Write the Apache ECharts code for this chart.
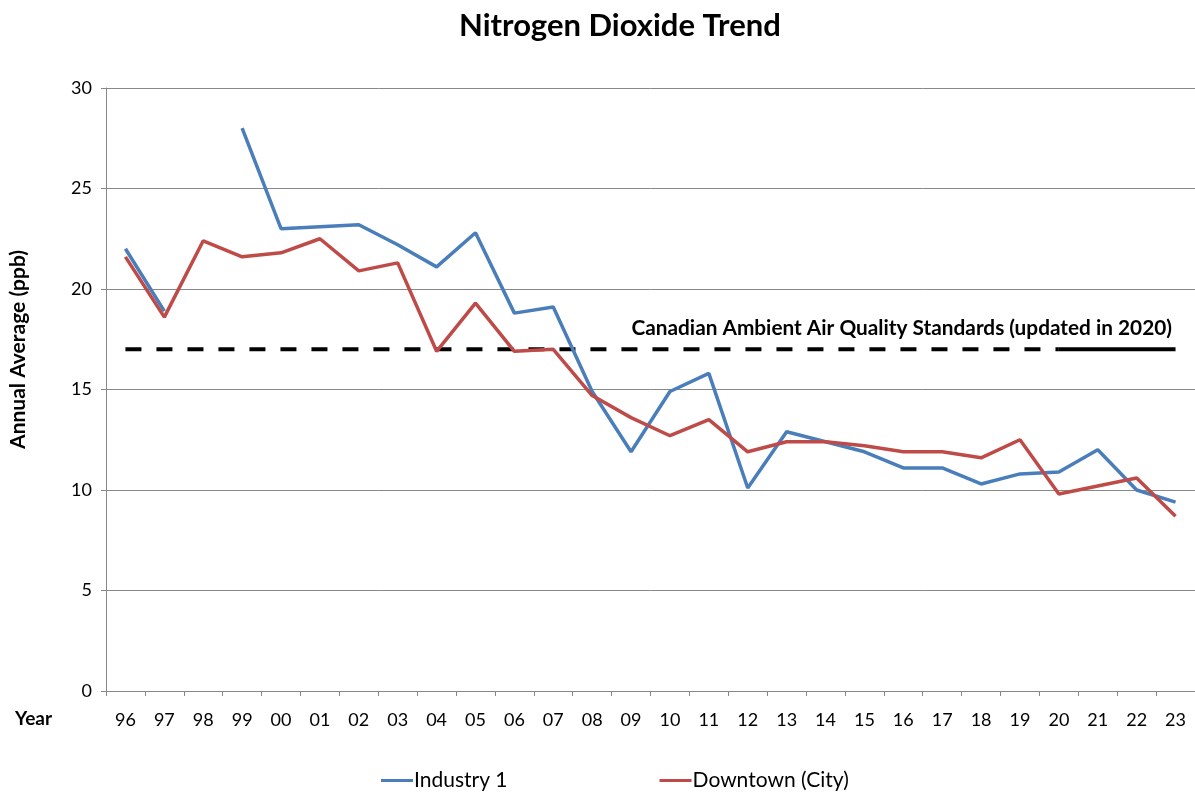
<!DOCTYPE html>
<html>
<head>
<meta charset="utf-8">
<script src="https://cdn.jsdelivr.net/npm/echarts@6/dist/echarts.min.js"></script>
<style>
  html, body { margin: 0; padding: 0; background: #fff; }
  #chart { width: 1195px; height: 796px; }
</style>
</head>
<body>
<div id="chart"></div>
<script>
// year labels (two digits)
const years = ['96','97','98','99','00','01','02','03','04','05','06','07','08','09',
  '10','11','12','13','14','15','16','17','18','19','20','21','22','23'];

// annual average NO2, ppb (98 missing for Industry 1)
const industry1 = [22.0, 18.9, null, 28.0, 23.0, 23.1, 23.2, 22.2, 21.1, 22.8, 18.8, 19.1, 14.9, 11.9,
  14.9, 15.8, 10.1, 12.9, 12.4, 11.9, 11.1, 11.1, 10.3, 10.8, 10.9, 12.0, 10.0, 9.4];
const downtown = [21.6, 18.6, 22.4, 21.6, 21.8, 22.5, 20.9, 21.3, 16.9, 19.3, 16.9, 17.0, 14.7, 13.6,
  12.7, 13.5, 11.9, 12.4, 12.4, 12.2, 11.9, 11.9, 11.6, 12.5, 9.8, 10.2, 10.6, 8.7];

// CAAQS value: old standard (dashed) up to 2020, updated (solid) from 2020
const standardValue = 17;
const standardOld = years.map((y, i) => i <= 24 ? standardValue : null);
const standardNew = years.map((y, i) => i >= 24 ? standardValue : null);

const yTicks = [0, 5, 10, 15, 20, 25, 30];

const font = 'Lato, "Open Sans", sans-serif';
const chart = echarts.init(document.getElementById('chart'));

chart.setOption({
  animation: false,
  backgroundColor: '#fff',
  title: {
    text: 'Nitrogen Dioxide Trend',
    left: 454,
    top: 5,
    textStyle: { fontFamily: font, fontSize: 31, fontWeight: 'bold', color: '#000' }
  },
  grid: { left: 106, right: 0, top: 88, bottom: 105 },
  legend: {
    bottom: 0,
    left: 376,
    itemGap: 152,
    itemWidth: 32,
    itemHeight: 3,
    icon: 'rect',
    data: ['Industry 1', 'Downtown (City)'],
    textStyle: { fontFamily: font, fontSize: 21, color: '#000', padding: [0, 0, 0, -4] }
  },
  xAxis: {
    type: 'category',
    data: years,
    boundaryGap: true,
    axisLine: { lineStyle: { color: '#888', width: 1 } },
    axisTick: { show: true, length: 5, lineStyle: { color: '#888' } },
    axisLabel: { fontFamily: font, fontSize: 18, color: '#000', margin: 20 }
  },
  yAxis: {
    type: 'value',
    min: yTicks[0],
    max: yTicks[yTicks.length - 1],
    interval: 5,
    axisLine: { show: true, lineStyle: { color: '#888' } },
    axisTick: { show: true, length: 5, lineStyle: { color: '#888' } },
    axisLabel: { fontFamily: font, fontSize: 18, color: '#000', margin: 14 },
    splitLine: { lineStyle: { color: '#888', width: 1 } }
  },
  graphic: [
    {
      type: 'text',
      left: 8,
      top: 250,
      rotation: Math.PI / 2,
      style: { text: 'Annual Average (ppb)', fontFamily: font, fontSize: 21, fontWeight: 'bold', fill: '#000' }
    },
    {
      type: 'text',
      left: 15,
      top: 709,
      style: { text: 'Year', fontFamily: font, fontSize: 19, fontWeight: 'bold', fill: '#000' }
    },
    {
      type: 'text',
      right: 23,
      top: 318,
      style: { text: 'Canadian Ambient Air Quality Standards (updated in 2020)', fontFamily: font, fontSize: 20.8, fontWeight: 'bold', fill: '#000' }
    }
  ],
  series: [
    {
      name: 'Industry 1',
      type: 'line',
      data: industry1,
      showSymbol: false,
      connectNulls: false,
      itemStyle: { color: '#4A7EBB' },
      lineStyle: { color: '#4A7EBB', width: 3.5 },
      z: 3
    },
    {
      name: 'Downtown (City)',
      type: 'line',
      data: downtown,
      showSymbol: false,
      itemStyle: { color: '#BE4B48' },
      lineStyle: { color: '#BE4B48', width: 3.5 },
      z: 4
    },
    {
      name: 'CAAQS',
      type: 'line',
      data: standardOld,
      showSymbol: false,
      lineStyle: { color: '#000', width: 4, type: [16, 15] },
      z: 2
    },
    {
      name: 'CAAQS updated',
      type: 'line',
      data: standardNew,
      showSymbol: false,
      lineStyle: { color: '#000', width: 4 },
      z: 2
    }
  ]
});
</script>
</body>
</html>
